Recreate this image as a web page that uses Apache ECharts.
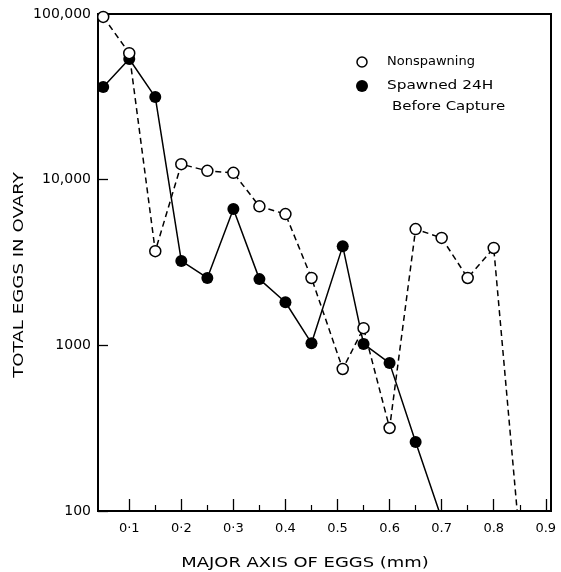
<!DOCTYPE html>
<html>
<head>
<meta charset="utf-8">
<script src="https://cdn.jsdelivr.net/npm/echarts@6/dist/echarts.min.js"></script>
<style>html,body{margin:0;padding:0;background:#fff;}#c{width:561px;height:572px;}</style>
</head>
<body>
<div id="c"></div>
<script>
// Data
const nonX = [0.05, 0.1, 0.15, 0.2, 0.25, 0.3, 0.35, 0.4, 0.45, 0.51, 0.55, 0.6, 0.65, 0.7, 0.75, 0.8, 0.845];
const nonY = [96000, 58000, 3700, 12400, 11300, 11000, 6900, 6200, 2550, 720, 1270, 317, 5030, 4450, 2550, 3870, 100];
const spawnX = [0.05, 0.1, 0.15, 0.2, 0.25, 0.3, 0.35, 0.4, 0.45, 0.51, 0.55, 0.6, 0.65, 0.695];
const spawnY = [36200, 53500, 31500, 3230, 2550, 6650, 2510, 1820, 1030, 3970, 1020, 781, 261, 100];
const xMajorTicks = [0.1, 0.2, 0.3, 0.4, 0.5, 0.6, 0.7, 0.8, 0.9];
const xMajorLabels = ['0·1', '0·2', '0·3', '0.4', '0.5', '0.6', '0.7', '0.8', '0.9'];
const xMinorTicks = [0.15, 0.25, 0.35, 0.45, 0.55, 0.65, 0.75, 0.85];
const yTickLabels = {100: '100', 1000: '1000', 10000: '10,000', 100000: '100,000'};
const seriesNames = ['Nonspawning', 'Spawned 24H', 'Before Capture'];
const xTitle = 'MAJOR AXIS OF EGGS (mm)';
const yTitle = 'TOTAL EGGS IN OVARY';

const FONT = 'DejaVu Sans';
const chart = echarts.init(document.getElementById('c'), null, {renderer: 'canvas'});

function pairs(xs, ys, lastNoSymbol) {
  return xs.map((x, i) => {
    if (lastNoSymbol && i === xs.length - 1) return {value: [x, ys[i]], symbol: 'none'};
    return [x, ys[i]];
  });
}

chart.setOption({
  backgroundColor: '#fff',
  animation: false,
  grid: {left: 98, right: 10, top: 14, bottom: 61, show: true, borderColor: '#000', borderWidth: 2, backgroundColor: 'transparent'},
  xAxis: [{
    type: 'value', min: 0.04, max: 0.91,
    axisLine: {show: true, lineStyle: {color: '#000', width: 2}},
    axisTick: {show: true, inside: true, length: 12, customValues: xMajorTicks, lineStyle: {color: '#000', width: 1.3}},
    axisLabel: {show: true, customValues: xMajorTicks, margin: 11, color: '#000', fontFamily: FONT, fontSize: 13,
      formatter: v => { const i = xMajorTicks.findIndex(t => Math.abs(t - v) < 1e-6); return i >= 0 ? xMajorLabels[i] : ''; }},
    splitLine: {show: false}
  }, {
    type: 'value', min: 0.04, max: 0.91, position: 'bottom',
    axisLine: {show: false},
    axisTick: {show: true, inside: true, length: 6, customValues: xMinorTicks, lineStyle: {color: '#000', width: 1.2}},
    axisLabel: {show: false},
    splitLine: {show: false}
  }],
  yAxis: {
    type: 'log', logBase: 10, min: 100, max: 100000,
    axisLine: {show: true, lineStyle: {color: '#000', width: 2}},
    axisTick: {show: true, inside: true, length: 10, lineStyle: {color: '#000', width: 1.3}},
    axisLabel: {margin: 7, color: '#000', fontFamily: FONT, fontSize: 14,
      formatter: v => yTickLabels[Math.round(v)] || ''},
    splitLine: {show: false}
  },
  series: [{
    name: seriesNames[1], type: 'line', z: 2,
    data: pairs(spawnX, spawnY, true),
    symbol: 'circle', symbolSize: 12,
    itemStyle: {color: '#000', borderColor: '#000', borderWidth: 0},
    lineStyle: {color: '#000', width: 1.5, type: 'solid'}
  }, {
    name: seriesNames[0], type: 'line', z: 3,
    data: pairs(nonX, nonY, true),
    symbol: 'circle', symbolSize: 11,
    itemStyle: {color: '#fff', borderColor: '#000', borderWidth: 1.5},
    lineStyle: {color: '#000', width: 1.5, type: [6, 4]}
  }],
  graphic: [
    {type: 'circle', shape: {cx: 362, cy: 62, r: 5}, style: {fill: '#fff', stroke: '#000', lineWidth: 1.5}},
    {type: 'text', x: 387, y: 62, style: {text: seriesNames[0], font: '13px "DejaVu Sans"', fill: '#000', verticalAlign: 'middle'}},
    {type: 'circle', shape: {cx: 362, cy: 86, r: 6}, style: {fill: '#000'}},
    {type: 'text', x: 387, y: 86, scaleX: 1.18, style: {text: seriesNames[1], font: '13px "DejaVu Sans"', fill: '#000', verticalAlign: 'middle'}},
    {type: 'text', x: 392, y: 107, scaleX: 1.15, style: {text: seriesNames[2], font: '13px "DejaVu Sans"', fill: '#000', verticalAlign: 'middle'}},
    {type: 'text', x: 305, y: 563, scaleX: 1.28, style: {text: xTitle, font: '14px "DejaVu Sans"', fill: '#000', align: 'center', verticalAlign: 'middle'}},
    {type: 'text', x: 19, y: 275, rotation: Math.PI / 2, scaleX: 1.3, style: {text: yTitle, font: '14px "DejaVu Sans"', fill: '#000', align: 'center', verticalAlign: 'middle'}}
  ]
});
</script>
</body>
</html>
